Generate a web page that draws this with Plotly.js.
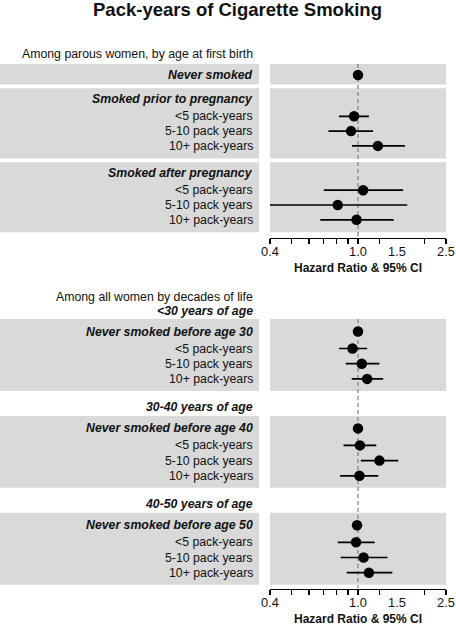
<!DOCTYPE html>
<html>
<head>
<meta charset="utf-8">
<script src="https://cdn.plot.ly/plotly-3.0.1.min.js"></script>
<style>html,body{margin:0;padding:0;background:#fff;}#chart{width:456px;height:626px;}</style>
</head>
<body>
<div id="chart"></div>
<script>
// ---------------- DATA ----------------
const chartTitle = "Pack-years of Cigarette Smoking";
const axisTitle = "Hazard Ratio & 95% CI";
const refValue = 1.0;
const tickLabelVals = [0.4, 1.0, 1.5, 2.5];
const tickLabelText = ["0.4", "1.0", "1.5", "2.5"];
const tickMarkVals = [0.4, 0.5, 0.6, 0.7, 0.8, 0.9, 1.0, 1.25, 2.0, 2.5];

// Section 1: parous women, by age at first birth
const topSectionTitle = "Among parous women, by age at first birth";
const topLabels = ["Never smoked", "Smoked prior to pregnancy", "<5 pack-years", "5-10 pack years", "10+ pack-years",
                   "Smoked after pregnancy", "<5 pack-years", "5-10 pack years", "10+ pack-years"];
const topGroup  = [0, 1, 1, 1, 1, 2, 2, 2, 2];
const topHeader = [1, 1, 0, 0, 0, 1, 0, 0, 0];
const topHR = [1.00, null, 0.96, 0.93, 1.23, null, 1.055, 0.81, 0.985];
const topLo = [null, null, 0.82, 0.735, 0.94, null, 0.70, 0.40, 0.675];
const topHi = [null, null, 1.12, 1.17, 1.63, null, 1.60, 1.67, 1.45];

// Section 2: all women by decades of life
const bottomSectionTitle = "Among all women by decades of life";
const bottomSubtitles = ["<30 years of age", "30-40 years of age", "40-50 years of age"];
const bottomLabels = ["Never smoked before age 30", "<5 pack-years", "5-10 pack years", "10+ pack-years",
                      "Never smoked before age 40", "<5 pack-years", "5-10 pack years", "10+ pack-years",
                      "Never smoked before age 50", "<5 pack-years", "5-10 pack years", "10+ pack-years"];
const bottomGroup  = [0, 0, 0, 0, 1, 1, 1, 1, 2, 2, 2, 2];
const bottomHeader = [1, 0, 0, 0, 1, 0, 0, 0, 1, 0, 0, 0];
const bottomHR = [1.00, 0.944, 1.04, 1.10, 1.00, 1.02, 1.25, 1.015, 0.99, 0.98, 1.06, 1.12];
const bottomLo = [null, 0.82, 0.88, 0.937, null, 0.86, 1.03, 0.83, null, 0.81, 0.835, 0.89];
const bottomHi = [null, 1.10, 1.25, 1.30, null, 1.21, 1.52, 1.235, null, 1.19, 1.36, 1.43];

// ---------------- LAYOUT HELPERS ----------------
const W = 456, H = 626;
const FONT = "Liberation Sans, Arial, Helvetica, sans-serif";
const TXT = "#111111";
const GREY = "#d9d9d9";
const LBL_SIZE = 12.3;
const py = p => 1 - p / H;            // pixel row -> paper y
const LABEL_X = 254.5 / W;
const LEFT_X1 = 259 / W;
const PLOT_DOMAIN = [270 / W, 446 / W];
const XRANGE = [Math.log10(0.4), Math.log10(2.5)];

function placeRows(groups, headers, startTop, cfg) {
  const ys = new Array(groups.length);
  const panels = [];
  let top = startTop;
  const ids = [...new Set(groups)];
  ids.forEach(g => {
    const idx = groups.map((v, i) => v === g ? i : -1).filter(i => i >= 0);
    let y = top + cfg.padTop;
    idx.forEach((i, k) => {
      if (k > 0) y += headers[idx[k - 1]] ? cfg.h : cfg.s;
      ys[i] = y;
    });
    const bottom = y + (idx.length === 1 ? cfg.padSingle : cfg.padBottom);
    panels.push({ top: top, bottom: bottom });
    top = bottom + cfg.gap;
  });
  return { ys, panels };
}

const topPos = placeRows(topGroup, topHeader, 64,
  { padTop: 11, h: 17, s: 14.8, padBottom: 12.5, padSingle: 9.5, gap: 3.8 });
const botPos = placeRows(bottomGroup, bottomHeader, 319,
  { padTop: 12.5, h: 17, s: 15.2, padBottom: 12, padSingle: 9.5, gap: 25 });

const TOP_AXIS_Y = 237.5, BOT_AXIS_Y = 588.5;
const TOP_YTOP = 58, BOT_YTOP = 300;

const traces = [];
const shapes = [];
const annotations = [];
const esc = t => t.replace(/&/g, "&amp;").replace(/</g, "&lt;");

function buildSection(labels, headers, hr, lo, hi, pos, xa, ya, axisY) {
  // reference line at HR = 1
  traces.push({
    x: [refValue, refValue], y: [pos.panels[0].top, axisY],
    xaxis: xa, yaxis: ya, mode: "lines", hoverinfo: "skip", showlegend: false,
    line: { color: "#858585", width: 1.3, dash: "4px,3px" }
  });
  const xs = [], ys = [], ep = [], em = [];
  hr.forEach((v, i) => {
    if (v === null) return;
    xs.push(v); ys.push(pos.ys[i]);
    ep.push(hi[i] === null ? 0 : hi[i] - v);
    em.push(lo[i] === null ? 0 : v - lo[i]);
  });
  traces.push({
    x: xs, y: ys, xaxis: xa, yaxis: ya, mode: "markers", showlegend: false, hoverinfo: "skip",
    marker: { color: "#000000", size: 10.5, symbol: "circle" },
    error_x: { type: "data", symmetric: false, array: ep, arrayminus: em,
               color: "#000000", thickness: 1.7, width: 0 }
  });
  pos.panels.forEach(p => {
    shapes.push({ type: "rect", layer: "below", xref: "paper", yref: ya,
      x0: 0, x1: LEFT_X1, y0: p.top, y1: p.bottom, fillcolor: GREY, line: { width: 0 } });
    shapes.push({ type: "rect", layer: "below", xref: "paper", yref: ya,
      x0: PLOT_DOMAIN[0], x1: PLOT_DOMAIN[1], y0: p.top, y1: p.bottom, fillcolor: GREY, line: { width: 0 } });
  });
  labels.forEach((t, i) => {
    const txt = headers[i] ? "<b><i>" + esc(t) + "</i></b>" : esc(t);
    annotations.push({ xref: "paper", yref: ya, x: LABEL_X, y: pos.ys[i], xanchor: "right", yanchor: "middle",
      text: txt, showarrow: false, font: { family: FONT, size: LBL_SIZE, color: TXT } });
  });
}

buildSection(topLabels, topHeader, topHR, topLo, topHi, topPos, "x", "y", TOP_AXIS_Y);
buildSection(bottomLabels, bottomHeader, bottomHR, bottomLo, bottomHi, botPos, "x2", "y2", BOT_AXIS_Y);

// invisible traces so the label axes are drawn
traces.push({ x: [refValue], y: [null], xaxis: "x3", yaxis: "y", mode: "markers", showlegend: false, hoverinfo: "skip" });
traces.push({ x: [refValue], y: [null], xaxis: "x4", yaxis: "y2", mode: "markers", showlegend: false, hoverinfo: "skip" });

// section titles
annotations.push({ xref: "paper", yref: "paper", x: LABEL_X, y: py(53.5), xanchor: "right", yanchor: "middle",
  text: esc(topSectionTitle), showarrow: false, font: { family: FONT, size: LBL_SIZE, color: TXT } });
annotations.push({ xref: "paper", yref: "paper", x: LABEL_X, y: py(297), xanchor: "right", yanchor: "middle",
  text: esc(bottomSectionTitle), showarrow: false, font: { family: FONT, size: LBL_SIZE, color: TXT } });
bottomSubtitles.forEach((t, g) => {
  annotations.push({ xref: "paper", yref: "y2", x: LABEL_X, y: botPos.panels[g].top - 8.5, xanchor: "right", yanchor: "middle",
    text: "<b><i>" + esc(t) + "</i></b>", showarrow: false, font: { family: FONT, size: LBL_SIZE, color: TXT } });
});

function tickAxis(anchor) {
  return {
    type: "log", range: XRANGE, domain: PLOT_DOMAIN, anchor: anchor, fixedrange: true,
    showline: true, linecolor: "#000000", linewidth: 1.5,
    showgrid: false, zeroline: false, showticklabels: false,
    tickmode: "array", tickvals: tickMarkVals, ticks: "outside", ticklen: 5, tickwidth: 1.4, tickcolor: "#000000"
  };
}
function labelAxis(over, anchor) {
  return {
    type: "log", range: XRANGE, overlaying: over, anchor: anchor, fixedrange: true,
    showline: false, showgrid: false, zeroline: false,
    ticks: "outside", ticklen: 2, tickcolor: "rgba(0,0,0,0)",
    tickmode: "array", tickvals: tickLabelVals, ticktext: tickLabelText,
    tickfont: { family: FONT, size: 12.8, color: TXT },
    title: { text: "<b>" + esc(axisTitle) + "</b>", font: { family: FONT, size: 12, color: TXT }, standoff: 5 }
  };
}
function yAxis(top, bottom) {
  return { domain: [py(bottom), py(top)], range: [bottom, top], visible: false, fixedrange: true,
           showgrid: false, zeroline: false };
}

const layout = {
  width: W, height: H, margin: { l: 0, r: 0, t: 0, b: 0 },
  paper_bgcolor: "#ffffff", plot_bgcolor: "rgba(0,0,0,0)",
  showlegend: false, hovermode: false,
  font: { family: FONT, color: TXT },
  title: { text: "<b>" + esc(chartTitle) + "</b>", x: 237.5 / W, xanchor: "center", xref: "paper",
           y: py(10), yanchor: "middle", yref: "paper", font: { family: FONT, size: 18.5, color: TXT } },
  xaxis: tickAxis("y"),
  xaxis2: tickAxis("y2"),
  xaxis3: labelAxis("x", "y"),
  xaxis4: labelAxis("x2", "y2"),
  yaxis: yAxis(TOP_YTOP, TOP_AXIS_Y),
  yaxis2: yAxis(BOT_YTOP, BOT_AXIS_Y),
  shapes: shapes,
  annotations: annotations
};

Plotly.newPlot("chart", traces, layout, { staticPlot: true, displayModeBar: false });
</script>
</body>
</html>
